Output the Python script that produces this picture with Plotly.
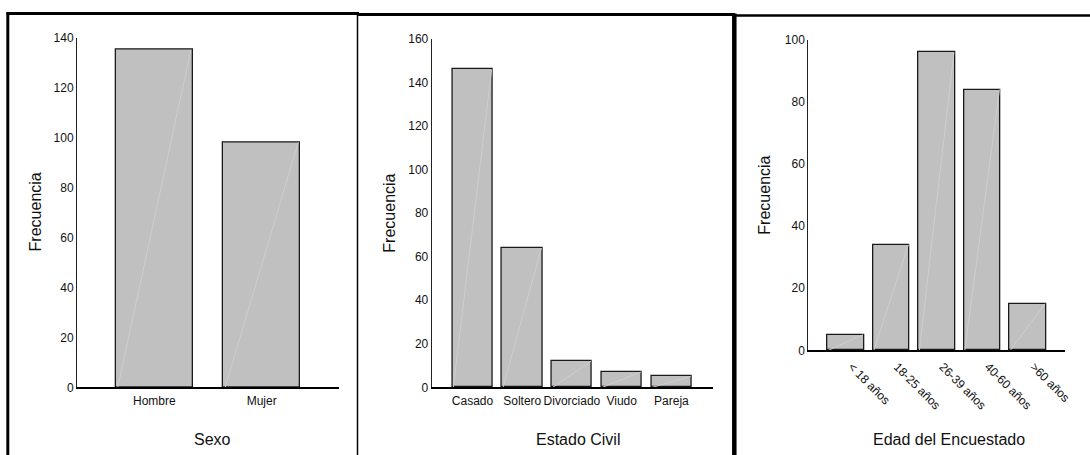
import plotly.graph_objects as go

# ---- data ----
sexo_cats = ["Hombre", "Mujer"]
sexo_vals = [135, 98]

civil_cats = ["Casado", "Soltero", "Divorciado", "Viudo", "Pareja"]
civil_vals = [146, 64, 12, 7, 5]

edad_cats = ["< 18 años", "18-25 años", "26-39 años", "40-60 años", ">60 años"]
edad_vals = [5, 34, 96, 84, 15]

W, H = 1090, 455
FONT = "Liberation Sans, Arial, sans-serif"


def px(x):
    return x / W


def py(y):
    return 1 - y / H


panels = [
    dict(cats=sexo_cats, vals=sexo_vals, bw=0.72, xr=[-0.72, 1.72], yr=[0, 140], dt=20,
         xd=(77, 339), yd=(37.5, 387.3), title="Sexo", ang=0, tx=212, fx=35, shift=0, so=2),
    dict(cats=civil_cats, vals=civil_vals, bw=0.81, xr=[-0.82, 4.83], yr=[0, 160], dt=20,
         xd=(431.7, 712.7), yd=(39, 387.3), title="Estado Civil", ang=0, tx=578, fx=389.5, shift=0, so=2),
    dict(cats=edad_cats, vals=edad_vals, bw=0.80, xr=[-0.82, 4.82], yr=[0, 100], dt=20,
         xd=(808.3, 1065), yd=(40, 350.3), title="Edad del Encuestado", ang=45, tx=949, fx=764.5, shift=6, so=3),
]

fig = go.Figure()
annotations = []
layout_axes = {}

for k, p in enumerate(panels, start=1):
    xa = "x" if k == 1 else f"x{k}"
    ya = "y" if k == 1 else f"y{k}"
    pos = list(range(len(p["cats"])))
    fig.add_trace(go.Bar(
        x=pos, y=p["vals"], width=p["bw"], xaxis=xa, yaxis=ya,
        marker=dict(color="#c0c0c0", line=dict(color="#1a1a1a", width=1.3)),
        showlegend=False, hoverinfo="x+y",
    ))
    # faint diagonal highlight inside each bar (derived from data)
    dx, dy = [], []
    for i, v in zip(pos, p["vals"]):
        dx += [i - p["bw"] / 2 + 0.02, i + p["bw"] / 2 - 0.02, None]
        dy += [0, v, None]
    fig.add_trace(go.Scatter(
        x=dx, y=dy, mode="lines", xaxis=xa, yaxis=ya,
        line=dict(color="#cdcdcd", width=1), showlegend=False, hoverinfo="skip",
    ))

    xkey = "xaxis" if k == 1 else f"xaxis{k}"
    ykey = "yaxis" if k == 1 else f"yaxis{k}"
    layout_axes[xkey] = dict(
        domain=[px(p["xd"][0]), px(p["xd"][1])], anchor=ya, range=p["xr"],
        tickmode="array", tickvals=pos, ticktext=p["cats"], tickangle=p["ang"],
        ticklabelshift=p["shift"], ticklabelstandoff=p["so"],
        showline=True, linecolor="#000000", linewidth=1.5, ticks="",
        showgrid=False, zeroline=False, fixedrange=True, automargin=False,
        tickfont=dict(family=FONT, size=12, color="#111111"),
    )
    layout_axes[ykey] = dict(
        domain=[py(p["yd"][1]), py(p["yd"][0])], anchor=xa, range=p["yr"],
        dtick=p["dt"], tick0=0,
        showline=True, linecolor="#222222", linewidth=1, ticks="",
        showgrid=False, zeroline=False, fixedrange=True, automargin=False,
        tickfont=dict(family=FONT, size=12, color="#111111"),
    )
    annotations.append(dict(
        text=p["title"], x=px(p["tx"]), y=py(439), xref="paper", yref="paper",
        showarrow=False, xanchor="center", yanchor="middle",
        font=dict(family=FONT, size=16, color="#111111"),
    ))
    annotations.append(dict(
        text="Frecuencia", x=px(p["fx"]), y=py((p["yd"][0] + p["yd"][1]) / 2),
        xref="paper", yref="paper", textangle=-90,
        showarrow=False, xanchor="center", yanchor="middle",
        font=dict(family=FONT, size=16, color="#111111"),
    ))


def frame(x0, y0, x1, y1, w):
    return dict(type="line", xref="paper", yref="paper",
                x0=px(x0), x1=px(x1), y0=py(y0), y1=py(y1),
                line=dict(color="black", width=w))


shapes = [
    frame(7.8, 12, 7.8, 455, 3),
    frame(6.5, 13.5, 359, 13.5, 3),
    frame(357.5, 13, 357.5, 455, 1.5),
    frame(357, 14.6, 735, 14.6, 3),
    frame(734.3, 13.5, 734.3, 455, 4.5),
    frame(733, 15.5, 1090, 15.5, 2.5),
]

fig.update_layout(
    width=W, height=H,
    margin=dict(l=0, r=0, t=0, b=0, autoexpand=False),
    paper_bgcolor="white", plot_bgcolor="white",
    bargap=0, showlegend=False,
    annotations=annotations, shapes=shapes,
    font=dict(family=FONT, color="#111111"),
    **layout_axes,
)

fig.write_html(
    "out.html",
    config={"displayModeBar": False},
    post_script="document.body.style.margin='0';document.body.style.padding='0';",
)
